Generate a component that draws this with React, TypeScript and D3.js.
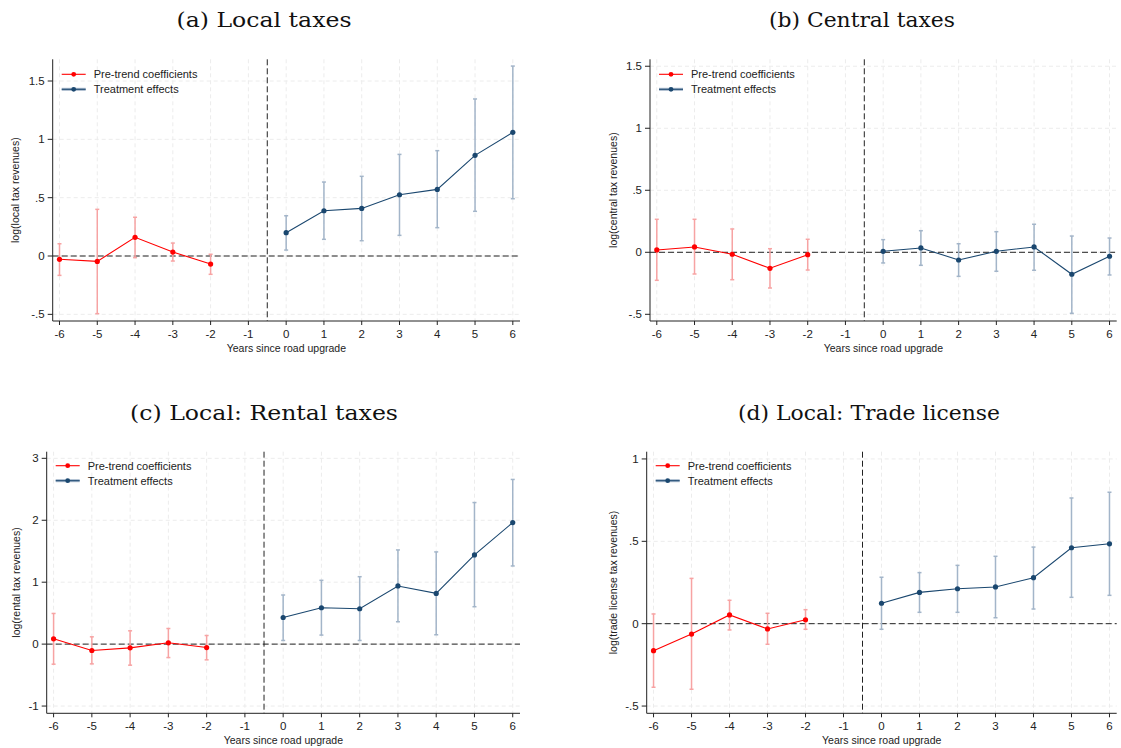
import { scaleLinear, line } from "d3";

const years = [-6, -5, -4, -3, -2, 0, 1, 2, 3, 4, 5, 6];
const xTicks = [-6, -5, -4, -3, -2, -1, 0, 1, 2, 3, 4, 5, 6];

const localCoef = [-0.028, -0.046, 0.16, 0.034, -0.069, 0.2, 0.388, 0.408, 0.525, 0.571, 0.863, 1.06];
const localLo = [-0.166, -0.494, -0.014, -0.043, -0.157, 0.051, 0.143, 0.131, 0.177, 0.243, 0.383, 0.491];
const localHi = [0.105, 0.4, 0.332, 0.111, 0.015, 0.345, 0.634, 0.683, 0.871, 0.903, 1.346, 1.628];

const centralCoef = [0.019, 0.043, -0.016, -0.129, -0.019, 0.008, 0.035, -0.062, 0.008, 0.043, -0.177, -0.032];
const centralLo = [-0.226, -0.175, -0.221, -0.288, -0.143, -0.086, -0.105, -0.194, -0.153, -0.145, -0.492, -0.183];
const centralHi = [0.266, 0.266, 0.188, 0.029, 0.105, 0.102, 0.174, 0.069, 0.166, 0.226, 0.131, 0.115];

const rentalCoef = [0.086, -0.103, -0.06, 0.021, -0.055, 0.43, 0.587, 0.571, 0.939, 0.819, 1.44, 1.963];
const rentalLo = [-0.324, -0.319, -0.34, -0.217, -0.254, 0.059, 0.146, 0.059, 0.361, 0.151, 0.604, 1.262];
const rentalHi = [0.495, 0.118, 0.215, 0.252, 0.139, 0.793, 1.03, 1.089, 1.521, 1.489, 2.286, 2.659];

const tradeCoef = [-0.164, -0.063, 0.053, -0.032, 0.024, 0.124, 0.19, 0.212, 0.223, 0.279, 0.461, 0.485];
const tradeLo = [-0.386, -0.398, -0.038, -0.125, -0.034, -0.034, 0.069, 0.069, 0.036, 0.089, 0.16, 0.172];
const tradeHi = [0.059, 0.275, 0.142, 0.063, 0.085, 0.282, 0.31, 0.354, 0.409, 0.465, 0.763, 0.798];

const halfTicks = [-0.5, 0, 0.5, 1, 1.5];
const halfLabels = ["-.5", "0", ".5", "1", "1.5"];
const rentalTicks = [-1, 0, 1, 2, 3];
const rentalLabels = ["-1", "0", "1", "2", "3"];
const tradeTicks = [-0.5, 0, 0.5, 1];
const tradeLabels = ["-.5", "0", ".5", "1"];

const RED = "#ff0000";
const RED_CI = "#f7a3a3";
const NAVY = "#1a476f";
const NAVY_CI = "#a3b5c9";
const sans = '"Liberation Sans", Arial, Helvetica, sans-serif';

type PanelProps = {
  title: string;
  titleX: number;
  titleW: number;
  yLabel: string;
  coef: number[];
  lo: number[];
  hi: number[];
  yTicks: number[];
  yLabels: string[];
  yDomain: [number, number];
  left: number;
  right: number;
  top: number;
  bottom: number;
  titleY: number;
  yLabelX: number;
  legendDy: number;
};

function Panel(p: PanelProps) {
  const x = scaleLinear().domain([-6.18, 6.19]).range([p.left, p.right]);
  const y = scaleLinear().domain(p.yDomain).range([p.bottom, p.top]);
  const rows = years.map((yr, i) => ({ yr, c: p.coef[i], lo: p.lo[i], hi: p.hi[i] }));
  const pre = rows.filter((r) => r.yr < 0);
  const post = rows.filter((r) => r.yr >= 0);
  const path = line<{ yr: number; c: number }>()
    .x((d) => x(d.yr))
    .y((d) => y(d.c));
  const midX = (p.left + p.right) / 2;
  const midY = (p.top + p.bottom) / 2;
  const series = [
    { data: pre, color: RED, ci: RED_CI },
    { data: post, color: NAVY, ci: NAVY_CI },
  ];
  const lgX = p.left + 9;
  const lgY = p.top + p.legendDy;

  return (
    <g>
      <text
        x={p.titleX - p.titleW / 2}
        y={p.titleY}
        textLength={p.titleW}
        lengthAdjust="spacingAndGlyphs"
        fontFamily='"DejaVu Serif", "Liberation Serif", serif'
        fontSize={20}
        fill="#111"
      >
        {p.title}
      </text>
      {/* grid */}
      {xTicks.map((t) => (
        <line
          key={"gx" + t}
          x1={x(t)}
          x2={x(t)}
          y1={p.top}
          y2={p.bottom}
          stroke="#ececec"
          strokeDasharray="4,3"
        />
      ))}
      {p.yTicks.map((t) => (
        <line
          key={"gy" + t}
          x1={p.left}
          x2={p.right}
          y1={y(t)}
          y2={y(t)}
          stroke="#ececec"
          strokeDasharray="4,3"
        />
      ))}
      {/* reference lines */}
      <line x1={p.left} x2={p.right} y1={y(0)} y2={y(0)} stroke="#222" strokeDasharray="6,3" />
      <line x1={x(-0.5)} x2={x(-0.5)} y1={p.top} y2={p.bottom} stroke="#222" strokeDasharray="6,3" />
      {/* axes */}
      <line x1={p.left} x2={p.left} y1={p.top} y2={p.bottom} stroke="#222" />
      <line x1={p.left} x2={p.right} y1={p.bottom} y2={p.bottom} stroke="#222" />
      {p.yTicks.map((t, i) => (
        <g key={"yt" + t}>
          <line x1={p.left - 5} x2={p.left} y1={y(t)} y2={y(t)} stroke="#222" />
          <text
            x={p.left - 8}
            y={y(t)}
            dy="0.35em"
            textAnchor="end"
            fontSize={11.5}
            fontFamily={sans}
            fill="#222"
          >
            {p.yLabels[i]}
          </text>
        </g>
      ))}
      {xTicks.map((t) => (
        <g key={"xt" + t}>
          <line x1={x(t)} x2={x(t)} y1={p.bottom} y2={p.bottom + 4} stroke="#222" />
          <text
            x={x(t)}
            y={p.bottom + 17}
            textAnchor="middle"
            fontSize={11.5}
            fontFamily={sans}
            fill="#222"
          >
            {t}
          </text>
        </g>
      ))}
      <text x={midX} y={p.bottom + 31} textAnchor="middle" fontSize={10.5} fontFamily={sans} fill="#222">
        Years since road upgrade
      </text>
      <text
        transform={`translate(${p.yLabelX}, ${midY}) rotate(-90)`}
        textAnchor="middle"
        dy="0.35em"
        fontSize={10.5}
        fontFamily={sans}
        fill="#222"
      >
        {p.yLabel}
      </text>
      {/* series */}
      {series.map((s, k) => (
        <g key={k}>
          {s.data.map((d) => (
            <g key={d.yr} stroke={s.ci} strokeWidth={1.5}>
              <line x1={x(d.yr)} x2={x(d.yr)} y1={y(d.lo)} y2={y(d.hi)} />
              <line x1={x(d.yr) - 2} x2={x(d.yr) + 2} y1={y(d.lo)} y2={y(d.lo)} />
              <line x1={x(d.yr) - 2} x2={x(d.yr) + 2} y1={y(d.hi)} y2={y(d.hi)} />
            </g>
          ))}
          <path d={path(s.data) ?? ""} fill="none" stroke={s.color} strokeWidth={1.1} />
          {s.data.map((d) => (
            <circle key={"c" + d.yr} cx={x(d.yr)} cy={y(d.c)} r={2.6} fill={s.color} />
          ))}
        </g>
      ))}
      {/* legend */}
      <line x1={lgX} x2={lgX + 24} y1={lgY} y2={lgY} stroke={RED} strokeWidth={1.1} />
      <circle cx={lgX + 12} cy={lgY} r={2.4} fill={RED} />
      <text x={lgX + 32} y={lgY} dy="0.35em" fontSize={11} fontFamily={sans} fill="#222">
        Pre-trend coefficients
      </text>
      <line x1={lgX} x2={lgX + 24} y1={lgY + 15} y2={lgY + 15} stroke={NAVY_CI} strokeWidth={3} />
      <line x1={lgX} x2={lgX + 24} y1={lgY + 15} y2={lgY + 15} stroke={NAVY} strokeWidth={1} />
      <circle cx={lgX + 12} cy={lgY + 15} r={2.4} fill={NAVY} />
      <text x={lgX + 32} y={lgY + 15} dy="0.35em" fontSize={11} fontFamily={sans} fill="#222">
        Treatment effects
      </text>
    </g>
  );
}

export default function App() {
  return (
    <svg
      width={1121}
      height={748}
      style={{ position: "absolute", left: 0, top: 0, background: "#fff" }}
    >
      <Panel
        title="(a) Local taxes"
        titleX={264}
        titleW={175}
        yLabel="log(local tax revenues)"
        coef={localCoef}
        lo={localLo}
        hi={localHi}
        yTicks={halfTicks}
        yLabels={halfLabels}
        yDomain={[-0.557, 1.686]}
        left={52.7}
        right={520}
        top={59.3}
        bottom={321}
        titleY={27}
        yLabelX={15}
        legendDy={15}
      />
      <Panel
        title="(b) Central taxes"
        titleX={862}
        titleW={186}
        yLabel="log(central tax revenues)"
        coef={centralCoef}
        lo={centralLo}
        hi={centralHi}
        yTicks={halfTicks}
        yLabels={halfLabels}
        yDomain={[-0.554, 1.556]}
        left={650}
        right={1116.7}
        top={59.3}
        bottom={321}
        titleY={27}
        yLabelX={613}
        legendDy={15}
      />
      <Panel
        title="(c) Local: Rental taxes"
        titleX={264}
        titleW={268}
        yLabel="log(rental tax revenues)"
        coef={rentalCoef}
        lo={rentalLo}
        hi={rentalHi}
        yTicks={rentalTicks}
        yLabels={rentalLabels}
        yDomain={[-1.117, 3.107]}
        left={46.7}
        right={520}
        top={451.7}
        bottom={713.3}
        titleY={420}
        yLabelX={16}
        legendDy={14}
      />
      <Panel
        title="(d) Local: Trade license"
        titleX={869}
        titleW={262}
        yLabel="log(trade license tax revenues)"
        coef={tradeCoef}
        lo={tradeLo}
        hi={tradeHi}
        yTicks={tradeTicks}
        yLabels={tradeLabels}
        yDomain={[-0.544, 1.044]}
        left={646.7}
        right={1116.7}
        top={451.7}
        bottom={713.3}
        titleY={420}
        yLabelX={613}
        legendDy={14}
      />
    </svg>
  );
}
